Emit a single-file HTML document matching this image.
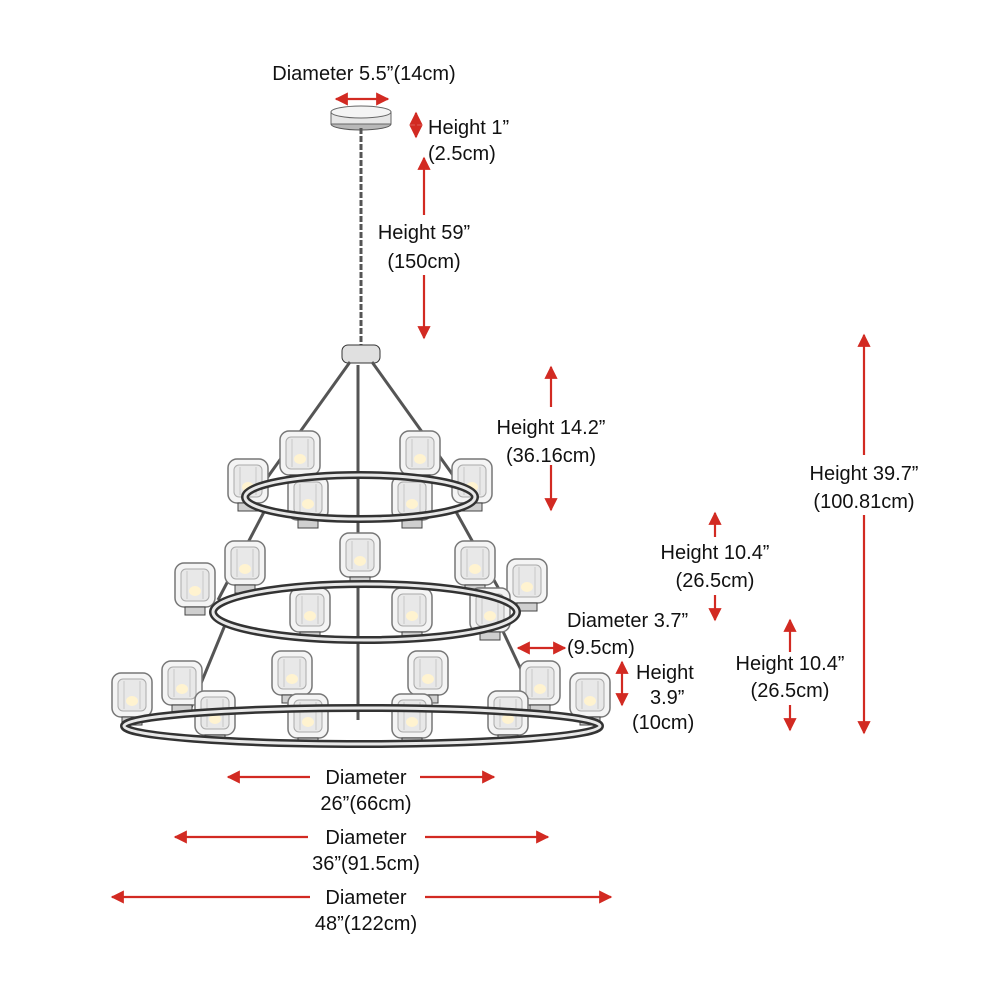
<!DOCTYPE html>
<html><head><meta charset="utf-8"><style>
html,body{margin:0;padding:0;background:#fff;}
svg{display:block;}
text{font-family:"Liberation Sans",Arial,sans-serif;font-size:20px;fill:#111;}
</style></head><body>
<svg width="1000" height="1000" viewBox="0 0 1000 1000" xmlns="http://www.w3.org/2000/svg">
<defs>
<marker id="a" viewBox="0 0 10 10" refX="9" refY="5" markerWidth="6" markerHeight="6" orient="auto-start-reverse">
<path d="M0,0 L10,5 L0,10 z" fill="#d22a22"/></marker>
<g id="shade">
<rect x="-20" y="-24" width="40" height="44" rx="9" fill="#f4f4f4" stroke="#777" stroke-width="1.5"/>
<rect x="-14" y="-18" width="28" height="32" rx="5" fill="#e8e8e8" stroke="#aaa" stroke-width="1"/>
<path d="M-8,-16 L-8,12 M8,-16 L8,12" stroke="#c8c8c8" stroke-width="1"/>
<ellipse cx="0" cy="4" rx="6" ry="5" fill="#fff3d0"/>
<rect x="-10" y="20" width="20" height="8" fill="#cfcfcf" stroke="#444" stroke-width="1"/>
</g>
</defs>
<g stroke="#d22a22" stroke-width="2.2" fill="none">
<line x1="336" y1="99" x2="388" y2="99" marker-start="url(#a)" marker-end="url(#a)"/>
<line x1="416" y1="113" x2="416" y2="137" marker-start="url(#a)" marker-end="url(#a)"/>
<line x1="424" y1="158" x2="424" y2="215" marker-start="url(#a)"/>
<line x1="424" y1="275" x2="424" y2="338" marker-end="url(#a)"/>
<line x1="551" y1="367" x2="551" y2="407" marker-start="url(#a)"/>
<line x1="551" y1="465" x2="551" y2="510" marker-end="url(#a)"/>
<line x1="864" y1="335" x2="864" y2="455" marker-start="url(#a)"/>
<line x1="864" y1="515" x2="864" y2="733" marker-end="url(#a)"/>
<line x1="715" y1="513" x2="715" y2="537" marker-start="url(#a)"/>
<line x1="715" y1="595" x2="715" y2="620" marker-end="url(#a)"/>
<line x1="518" y1="648" x2="565" y2="648" marker-start="url(#a)" marker-end="url(#a)"/>
<line x1="622" y1="662" x2="622" y2="705" marker-start="url(#a)" marker-end="url(#a)"/>
<line x1="790" y1="620" x2="790" y2="652" marker-start="url(#a)"/>
<line x1="790" y1="705" x2="790" y2="730" marker-end="url(#a)"/>
<line x1="228" y1="777" x2="310" y2="777" marker-start="url(#a)"/>
<line x1="420" y1="777" x2="494" y2="777" marker-end="url(#a)"/>
<line x1="175" y1="837" x2="308" y2="837" marker-start="url(#a)"/>
<line x1="425" y1="837" x2="548" y2="837" marker-end="url(#a)"/>
<line x1="112" y1="897" x2="310" y2="897" marker-start="url(#a)"/>
<line x1="425" y1="897" x2="611" y2="897" marker-end="url(#a)"/>
</g>
<g>
<ellipse cx="361" cy="124" rx="30" ry="6" fill="#b8b8b8" stroke="#555"/>
<rect x="331" y="112" width="60" height="12" fill="#e6e6e6" stroke="#666"/>
<ellipse cx="361" cy="112" rx="30" ry="6" fill="#f4f4f4" stroke="#666"/>
<line x1="361" y1="128" x2="361" y2="345" stroke="#555" stroke-width="3" stroke-dasharray="6 2"/>
<rect x="342" y="345" width="38" height="18" rx="6" fill="#e0e0e0" stroke="#333"/>
<g stroke="#555" stroke-width="3">
<line x1="350" y1="362" x2="262" y2="485"/><line x1="372" y1="362" x2="460" y2="485"/>
<line x1="358" y1="365" x2="358" y2="720"/>
<line x1="265" y1="510" x2="218" y2="600"/><line x1="455" y1="510" x2="505" y2="600"/>
<line x1="225" y1="625" x2="190" y2="710"/><line x1="500" y1="625" x2="540" y2="710"/>
</g>
<use href="#shade" x="300" y="455"/><use href="#shade" x="420" y="455"/>
<use href="#shade" x="248" y="483"/><use href="#shade" x="472" y="483"/>
<use href="#shade" x="308" y="500"/><use href="#shade" x="412" y="500"/>
<ellipse cx="360" cy="497" rx="115" ry="22" fill="none" stroke="#333" stroke-width="8"/>
<ellipse cx="360" cy="497" rx="115" ry="22" fill="none" stroke="#e8e8e8" stroke-width="3"/>
<use href="#shade" x="360" y="557"/><use href="#shade" x="245" y="565"/><use href="#shade" x="475" y="565"/>
<use href="#shade" x="195" y="587"/><use href="#shade" x="527" y="583"/>
<use href="#shade" x="310" y="612"/><use href="#shade" x="412" y="612"/><use href="#shade" x="490" y="612"/>
<ellipse cx="365" cy="612" rx="152" ry="28" fill="none" stroke="#333" stroke-width="8"/>
<ellipse cx="365" cy="612" rx="152" ry="28" fill="none" stroke="#e8e8e8" stroke-width="3"/>
<use href="#shade" x="292" y="675"/><use href="#shade" x="428" y="675"/>
<use href="#shade" x="132" y="697"/><use href="#shade" x="182" y="685"/>
<use href="#shade" x="540" y="685"/><use href="#shade" x="590" y="697"/>
<use href="#shade" x="215" y="715"/><use href="#shade" x="308" y="718"/>
<use href="#shade" x="412" y="718"/><use href="#shade" x="508" y="715"/>
<ellipse cx="362" cy="726" rx="238" ry="18" fill="none" stroke="#333" stroke-width="8"/>
<ellipse cx="362" cy="726" rx="238" ry="18" fill="none" stroke="#e8e8e8" stroke-width="3"/>
</g>
<text x="364" y="80" text-anchor="middle">Diameter 5.5”(14cm)</text>
<text x="428" y="134">Height 1”</text>
<text x="428" y="160">(2.5cm)</text>
<text x="424" y="239" text-anchor="middle">Height 59”</text>
<text x="424" y="268" text-anchor="middle">(150cm)</text>
<text x="551" y="434" text-anchor="middle">Height 14.2”</text>
<text x="551" y="462" text-anchor="middle">(36.16cm)</text>
<text x="864" y="480" text-anchor="middle">Height 39.7”</text>
<text x="864" y="508" text-anchor="middle">(100.81cm)</text>
<text x="715" y="559" text-anchor="middle">Height 10.4”</text>
<text x="715" y="587" text-anchor="middle">(26.5cm)</text>
<text x="567" y="627">Diameter 3.7”</text>
<text x="567" y="654">(9.5cm)</text>
<text x="636" y="679">Height</text>
<text x="650" y="704">3.9”</text>
<text x="632" y="729">(10cm)</text>
<text x="790" y="670" text-anchor="middle">Height 10.4”</text>
<text x="790" y="697" text-anchor="middle">(26.5cm)</text>
<text x="366" y="784" text-anchor="middle">Diameter</text>
<text x="366" y="810" text-anchor="middle">26”(66cm)</text>
<text x="366" y="844" text-anchor="middle">Diameter</text>
<text x="366" y="870" text-anchor="middle">36”(91.5cm)</text>
<text x="366" y="904" text-anchor="middle">Diameter</text>
<text x="366" y="930" text-anchor="middle">48”(122cm)</text>
</svg>
</body></html>
